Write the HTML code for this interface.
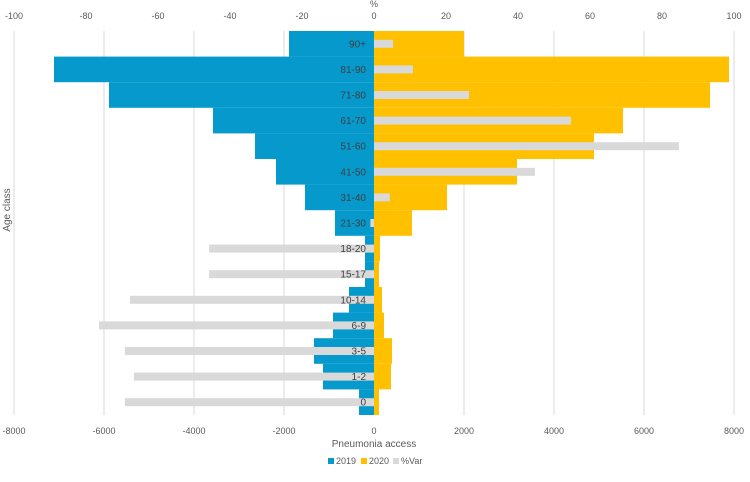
<!DOCTYPE html>
<html><head><meta charset="utf-8"><style>
body{margin:0;background:#fff;font-family:"Liberation Sans",sans-serif}
svg text{font-family:"Liberation Sans",sans-serif;fill:#595959}
</style></head><body>
<svg id="c" width="750" height="477"></svg>
<script>
const categories=["90+","81-90","71-80","61-70","51-60","41-50","31-40","21-30","18-20","15-17","10-14","6-9","3-5","1-2","0"];
const v2019=[-1889,-7111,-5889,-3578,-2644,-2178,-1533,-867,-200,-200,-556,-911,-1333,-1133,-333];
const v2020=[2000,7889,7467,5533,4889,3178,1622,844,133,111,178,222,400,378,111];
const pctVar=[5.3,10.8,26.4,54.7,84.7,44.7,4.4,-1,-45.8,-45.8,-67.8,-76.4,-69.2,-66.7,-69.2];
const bottomTicks=[-8000,-6000,-4000,-2000,0,2000,4000,6000,8000];
const topTicks=[-100,-80,-60,-40,-20,0,20,40,60,80,100];
const NS="http://www.w3.org/2000/svg",svg=document.getElementById('c');
const x=v=>374+v*0.045, xp=v=>374+v*3.6;
const top0=31, band=(415-31)/categories.length;
const yc=i=>top0+band*(i+0.5);
function el(t,a,txt){const e=document.createElementNS(NS,t);for(const k in a)e.setAttribute(k,a[k]);if(txt!=null)e.textContent=txt;svg.appendChild(e);return e;}
bottomTicks.forEach(t=>{
 const g=el('line',{x1:x(t),x2:x(t),y1:31,y2:415,stroke:'#d9d9d9'});
 
 
 const l=el('text',{x:x(t),y:434,'font-size':9,'text-anchor':'middle'},t);
 
 
});
topTicks.forEach(t=>{
 const l=el('text',{x:xp(t),y:19,'font-size':9,'text-anchor':'middle'},t);
 
 
});
categories.forEach((c,i)=>{
 const y0=top0+band*i;
 const b=el('rect',{x:x(v2019[i]),y:y0,width:x(0)-x(v2019[i]),height:band,fill:'#0599CC'});
 
 
 const b2=el('rect',{x:x(0),y:y0,width:x(v2020[i])-x(0),height:band,fill:'#FFC000'});
 
 
});
categories.forEach((c,i)=>{
 const p=pctVar[i];
 const g=el('rect',{x:Math.min(xp(0),xp(p)),y:yc(i)-4,width:Math.abs(xp(p)-xp(0)),height:8,fill:'#D9D9D9'});
 
 
 const l=el('text',{x:366,y:yc(i)+3.5,'font-size':10,'text-anchor':'end',style:'fill:#404040'},c);
 
 
});
</script>
<script>
const s=document.getElementById('c');
function tx(a,t,n){const e=document.createElementNS("http://www.w3.org/2000/svg",'text');for(const k in a)e.setAttribute(k,a[k]);e.textContent=t;s.appendChild(e);


return e;}
tx({x:374,y:7,'font-size':9,'text-anchor':'middle'},'%','top-axis-title');
tx({x:374,y:447,'font-size':10,'text-anchor':'middle'},'Pneumonia access','x-axis-title');
tx({x:10,y:210,'font-size':10,'text-anchor':'middle',transform:'rotate(-90 10 210)'},'Age class','y-axis-title');
const items=[['2019','#0599CC',328],['2020','#FFC000',361],['%Var','#D9D9D9',393]];
items.forEach(([t,c,xx])=>{
 const r=document.createElementNS("http://www.w3.org/2000/svg",'rect');
 r.setAttribute('x',xx);r.setAttribute('y',458);r.setAttribute('width',6);r.setAttribute('height',6);r.setAttribute('fill',c);s.appendChild(r);
 
 
 tx({x:xx+8,y:464,'font-size':9},t,'legend-entry');
});
</script>
</body></html>
